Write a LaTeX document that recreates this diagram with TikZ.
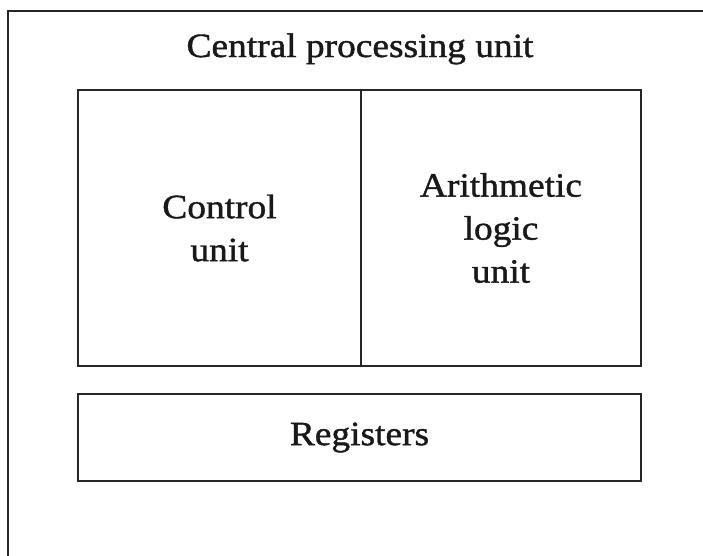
\documentclass[tikz,border=0pt]{standalone}
\usepackage{fontspec}
\setmainfont{Liberation Serif}[FakeStretch=1.1,FakeBold=1.2]
\usetikzlibrary{positioning}

\begin{document}
\begin{tikzpicture}[x=1pt,y=-1pt,node distance=0pt,
  unitbox/.style={draw=black!85,line width=1.8pt,outer sep=0pt,inner sep=0pt,
    align=center,text=black!90,font=\fontsize{34}{43}\selectfont}]
\useasboundingbox (0,0) rectangle (703,555);
\fill[white] (0,0) rectangle (703,555);
\draw[draw=black!85,line width=1.8pt] (8,560) -- (8,11) -- (710,11);

\node[text=black!90,font=\fontsize{34}{43}\selectfont,anchor=base] (cpu) at (360,57) {Central processing unit};
\node[unitbox,minimum width=283pt,minimum height=276pt] (cu) at (219.5,228) {Control\\unit};
\node[unitbox,minimum width=280pt,minimum height=276pt] (alu) [right=of cu] {Arithmetic\\logic\\unit};
\node[unitbox,minimum width=563pt,minimum height=87pt,anchor=north west] (reg)
  [below=28pt of cu.south west,anchor=north west] {Registers};
\end{tikzpicture}
\end{document}
